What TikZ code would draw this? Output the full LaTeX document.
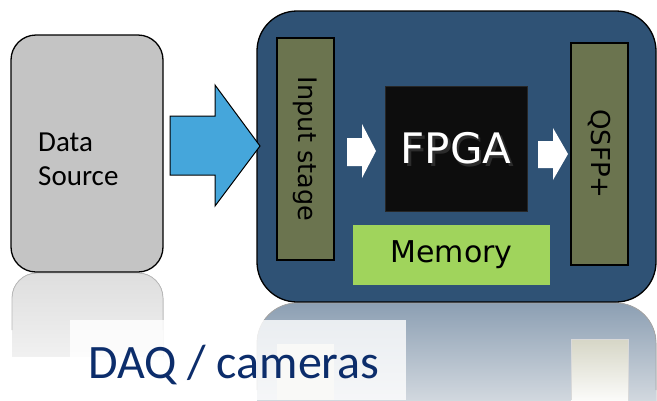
\documentclass[tikz,border=0pt]{standalone}
\usepackage{fontspec}
\setmainfont{DejaVu Sans}
\newfontfamily\calib{Carlito}
\definecolor{srcgray}{HTML}{C4C4C4}
\definecolor{boardblue}{HTML}{2F5275}
\definecolor{olivebox}{HTML}{6B744F}
\definecolor{fpgablack}{HTML}{0D0D0D}
\definecolor{memgreen}{HTML}{A0D45C}
\definecolor{arrowblue}{HTML}{45A6DB}
\definecolor{navytext}{HTML}{0C2D6B}
\definecolor{reflblue}{HTML}{8C9FB3}
\definecolor{reflolive}{HTML}{D6D6C6}
\definecolor{shadowgray}{HTML}{2C2C2C}
\tikzset{
  panel/.style={draw=black, line width=1.3pt, fill=olivebox, inner sep=0pt},
  bigarrow/.style={draw=black, line width=1pt, fill=arrowblue, line join=miter},
  smallarrow/.style={fill=white, draw=none},
}
\begin{document}
\begin{tikzpicture}[x=1pt,y=-1pt]
\useasboundingbox (0,0) rectangle (657,400);
% reflections
\begin{scope}
\clip (0,273) rectangle (200,356);
\fill[top color=black!13, bottom color=white, rounded corners=25pt] (12,420) -- (12,273) -- (163,273) -- (163,420) -- cycle;
\end{scope}
\draw[black!28, line width=0.8pt, rounded corners=25pt] (12,330) -- (12,273) -- (163,273) -- (163,330);
\fill[top color=reflblue, bottom color=white!96!black, rounded corners=40pt] (257,450) -- (257,303) -- (656,303) -- (656,450) -- cycle;
\draw[black!35, line width=0.8pt, rounded corners=40pt] (257,390) -- (257,303) -- (656,303) -- (656,390);
\fill[top color=reflolive, bottom color=white!90!reflolive] (571,339) rectangle (628,400);
\draw[black!15] (571,400) -- (571,339) -- (628,339) -- (628,400);
\fill[reflolive!70!white] (277,344) rectangle (334,400);
% white text panel
\fill[white, opacity=0.8] (70,320) rectangle (406,400);
\node[anchor=base west, text=navytext, font=\calib\fontsize{48}{56}\selectfont, inner sep=0pt] (daq) at (88,378) {DAQ / cameras};
% data source
\draw[draw=black, line width=1.3pt, fill=srcgray, rounded corners=25pt] (11,35) rectangle (163,272);
\node[anchor=base west, font=\calib\fontsize{29}{34}\selectfont, inner sep=0pt] (src1) at (38,151) {Data};
\node[anchor=base west, font=\calib\fontsize{29}{34}\selectfont, inner sep=0pt] (src2) at (38,185) {Source};
% board
\draw[draw=black, line width=1.3pt, fill=boardblue, rounded corners=40pt] (257,11) rectangle (656,302);
% input stage
\node[panel, minimum width=57pt, minimum height=222pt] (inp) at (305.5,149) {};
\node[rotate=-90, font=\fontsize{25.5}{28}\selectfont] (inptxt) at (inp.center) {Input stage};
% qsfp
\node[panel, minimum width=57pt, minimum height=222pt] (qsfp) at (599.5,154) {};
\node[rotate=-90, font=\fontsize{26}{30}\selectfont] (qsfptxt) at (qsfp.center) {QSFP+};
% fpga
\node[draw=black!85, line width=0.8pt, fill=fpgablack, minimum width=142pt, minimum height=125pt, inner sep=0pt] (fpga) at (456,148.5) {};
\node[text=shadowgray, font=\fontsize{42}{48}\selectfont] (fpgashadow) at ([shift={(2.5,2.5)}]fpga.center) {FPGA};
\node[text=white, font=\fontsize{42}{48}\selectfont] (fpgatxt) at (fpga.center) {FPGA};
% memory
\node[fill=memgreen, minimum width=197pt, minimum height=60pt, inner sep=0pt, font=\fontsize{30}{34}\selectfont] (mem) at (451.5,255) {Memory};
% big blue arrow
\draw[bigarrow] (170,116) -- (215,116) -- (215,85) -- (260,146) -- (215,206) -- (215,175) -- (170,175) -- cycle;
% small white arrows
\fill[smallarrow] (347,138) -- (362,138) -- (362,124) -- (376,151) -- (362,178) -- (362,166) -- (347,166) -- cycle;
\fill[smallarrow] (538,141) -- (553,141) -- (553,128) -- (568,154) -- (553,180) -- (553,168) -- (538,168) -- cycle;
\end{tikzpicture}
\end{document}
